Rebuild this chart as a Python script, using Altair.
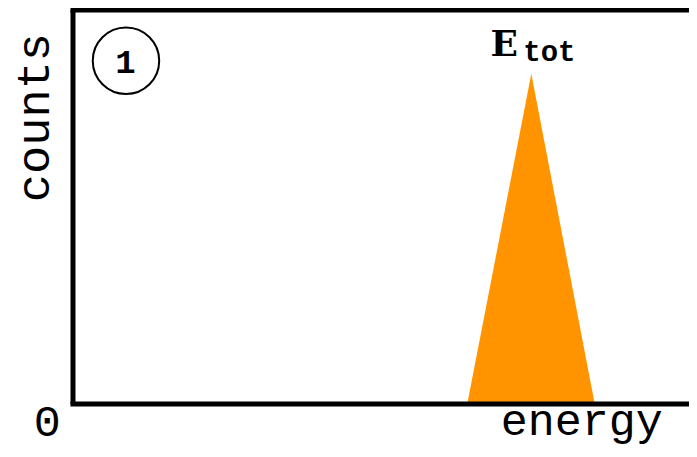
import altair as alt
import pandas as pd

# Peak (triangle) in data units
peak_x = [64.0, 74.4, 84.7]
peak_y = [0.0, 83.8, 0.0]

# Frame edges (left vertical; top and bottom horizontal)
left_x = [0]
left_y = [0]
left_y2 = [100]
horiz_x = [-0.41, -0.41]
horiz_x2 = [100, 100]
horiz_y = [100, 0]

# Plain labels
lab_text = ["energy", "0"]
lab_x = [82.6, -4.2]
lab_y = [-7.9, -8.1]

# Bold labels
bold_text = ["E", "tot", "1"]
bold_x = [70.0, 73.1, 8.5]
bold_y = [88.3, 87.1, 84.0]
bold_size = [36, 29, 34]
bold_font = ["DejaVu Serif", "Liberation Mono", "Liberation Mono"]
bold_align = ["center", "left", "center"]

# Vertical label
vlab_text = ["counts"]
vlab_x = [-3.9]
vlab_y = [72.7]

# Circle marker
circ_x = [8.6]
circ_y = [87.1]

xs = alt.Scale(domain=[0, 100], nice=False, zero=False)
ys = alt.Scale(domain=[0, 100], nice=False, zero=False)
FONT = "Liberation Mono"


def X(f):
    return alt.X(f, scale=xs, axis=None)


def Y(f):
    return alt.Y(f, scale=ys, axis=None)


peak_df = pd.DataFrame({"x": peak_x, "y": peak_y})
peak = alt.Chart(peak_df).mark_area(color="#ff9400", opacity=1).encode(x=X("x:Q"), y=Y("y:Q"))

left_df = pd.DataFrame({"x": left_x, "y": left_y, "y2": left_y2})
left_line = alt.Chart(left_df).mark_rule(color="black", strokeWidth=5).encode(
    x=X("x:Q"), y=Y("y:Q"), y2="y2:Q")

horiz_layers = []
for i in range(len(horiz_y)):
    hdf = pd.DataFrame({"x": [horiz_x[i]], "x2": [horiz_x2[i]], "y": [horiz_y[i]]})
    horiz_layers.append(
        alt.Chart(hdf).mark_rule(color="black", strokeWidth=5).encode(
            x=X("x:Q"), x2="x2:Q", y=Y("y:Q"))
    )

lab_df = pd.DataFrame({"t": lab_text, "x": lab_x, "y": lab_y})
labels = alt.Chart(lab_df).mark_text(
    font=FONT, fontSize=45, color="black", align="center", baseline="alphabetic"
).encode(x=X("x:Q"), y=Y("y:Q"), text="t:N")

bold_df = pd.DataFrame({"t": bold_text, "x": bold_x, "y": bold_y})
bold_layers = []
for i in range(len(bold_text)):
    sub = bold_df.iloc[[i]]
    bold_layers.append(
        alt.Chart(sub).mark_text(
            font=bold_font[i], fontWeight="bold", fontSize=bold_size[i], color="black",
            align=bold_align[i], baseline="alphabetic"
        ).encode(x=X("x:Q"), y=Y("y:Q"), text="t:N")
    )

vlab_df = pd.DataFrame({"t": vlab_text, "x": vlab_x, "y": vlab_y})
vlab = alt.Chart(vlab_df).mark_text(
    font=FONT, fontSize=47, color="black", align="center", baseline="alphabetic", angle=270
).encode(x=X("x:Q"), y=Y("y:Q"), text="t:N")

circ_df = pd.DataFrame({"x": circ_x, "y": circ_y})
circ = alt.Chart(circ_df).mark_point(
    shape="circle", size=4418, filled=False, color="black", strokeWidth=2, opacity=1
).encode(x=X("x:Q"), y=Y("y:Q"))

chart = alt.layer(peak, left_line, *horiz_layers, labels, vlab, circ, *bold_layers).properties(
    width=616, height=394,
    padding={"left": 65, "top": 2, "right": 0, "bottom": 45},
    autosize=alt.AutoSizeParams(type="none"),
    background="white",
).configure_view(stroke=None)

chart.save("out.html", embed_options={"renderer": "svg", "actions": False})
